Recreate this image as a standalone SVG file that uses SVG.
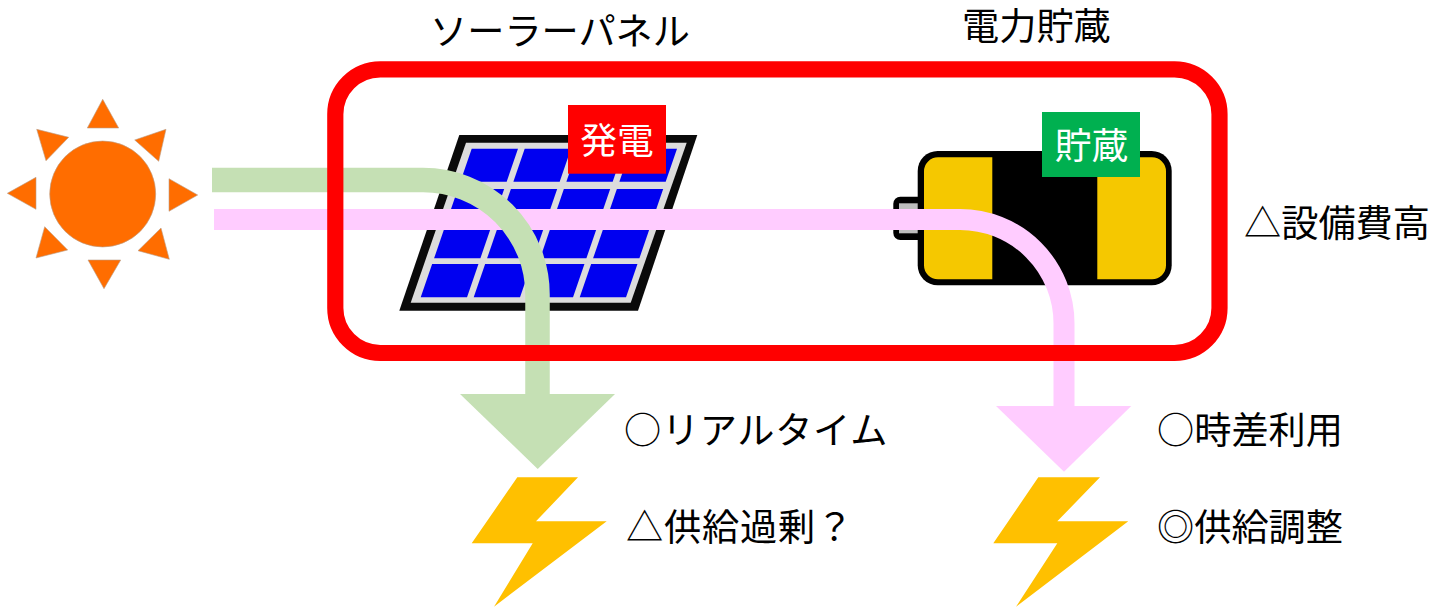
<svg xmlns="http://www.w3.org/2000/svg" width="1445" height="607" viewBox="0 0 1445 607">
<style>
text{font-family:"Noto Sans CJK JP","Noto Sans CJK SC",sans-serif;font-size:37.2px;fill:#000;font-weight:400}
.w{fill:#fff;font-size:36.8px;text-anchor:middle;font-weight:400}
.sun{fill:#FF6D00;stroke:#b9a08c;stroke-width:.6}
.cell{fill:#0000F0}
.bolt{fill:#FFC000}
.yel{fill:#F5C800}
.g{fill:none;stroke:#C5E0B4;stroke-width:24.5}
.p{fill:none;stroke:#FFCCFF;stroke-width:21}
</style>
<g id="sun">
<circle class="sun" cx="102.7" cy="194" r="53"/>
<polygon class="sun" points="102.7,99.3 87.3,128 118.7,128"/>
<polygon class="sun" points="88,260 120.7,260 104,288.7"/>
<polygon class="sun" points="7.3,193.3 36,177.3 36,209.3"/>
<polygon class="sun" points="169,178.7 169,211.3 197.7,195"/>
<polygon class="sun" points="36.7,129.3 68.7,137.3 46,160.7"/>
<polygon class="sun" points="166,129.3 134.7,140 158.7,161.3"/>
<polygon class="sun" points="44.7,226.7 67.7,250 36,258"/>
<polygon class="sun" points="161,228 138,250.7 169.3,259.3"/>
</g>
<g id="solar-panel">
<polygon fill="#0a0a0a" points="459.3,135 697.3,135 638,310.7 399.3,310.7"/>
<polygon fill="#dcdcdc" points="466,142.7 686.7,142.7 630.7,302.7 410.7,302.7"/>
<g transform="matrix(1 0 -.343 1 522.7 0)">
<rect class="cell" x="0" y="148.7" width="46.3" height="33"/><rect class="cell" x="53" y="148.7" width="46.3" height="33"/><rect class="cell" x="106" y="148.7" width="46.3" height="33"/><rect class="cell" x="159" y="148.7" width="46.3" height="33"/>
<rect class="cell" x="0" y="189" width="46.3" height="33"/><rect class="cell" x="53" y="189" width="46.3" height="33"/><rect class="cell" x="106" y="189" width="46.3" height="33"/><rect class="cell" x="159" y="189" width="46.3" height="33"/>
<rect class="cell" x="0" y="226" width="46.3" height="32.3"/><rect class="cell" x="53" y="226" width="46.3" height="32.3"/><rect class="cell" x="106" y="226" width="46.3" height="32.3"/><rect class="cell" x="159" y="226" width="46.3" height="32.3"/>
<rect class="cell" x="0" y="264" width="46.3" height="33.3"/><rect class="cell" x="53" y="264" width="46.3" height="33.3"/><rect class="cell" x="106" y="264" width="46.3" height="33.3"/><rect class="cell" x="159" y="264" width="46.3" height="33.3"/>
</g>
</g>
<g id="battery">
<rect x="893.3" y="196.7" width="35" height="43.3" rx="7" fill="#000"/>
<rect x="899" y="203.3" width="19" height="30" fill="#bdbdbd"/>
<rect x="917.7" y="151" width="254" height="134.3" rx="20" fill="#000"/>
<path class="yel" d="M992.3 157.3V279.3H938a14 14 0 0 1-14-14V171.3a14 14 0 0 1 14-14Z"/>
<path class="yel" d="M1097.3 157.3V279.3H1152a14 14 0 0 0 14-14V171.3a14 14 0 0 0-14-14Z"/>
</g>
<g id="label-hatsuden">
<rect x="568" y="105" width="98" height="68.7" fill="#f00"/>
<text class="w" x="617" y="154">発電</text>
</g>
<g id="label-chozo">
<rect x="1042" y="112" width="98" height="65" fill="#00B050"/>
<text class="w" x="1091.500" y="159">貯蔵</text>
</g>
<g id="bolt-1"><polygon class="bolt" points="517.3,477.3 578,477.3 536,521.3 606.7,521.3 494,606.7 532.7,543.3 471.7,543.3"/></g>
<g id="bolt-2"><polygon class="bolt" points="1038.3,477.3 1100,477.3 1057.3,521.3 1128.3,521.3 1016,606.7 1057.3,543.3 993.3,543.3"/></g>
<g id="connectors">
<path class="p" d="M214 219.5H960A104 104 0 0 1 1064 323.5V407"/>
<polygon fill="#FFCCFF" points="996,406 1131.3,406 1064,471.7"/>
<path class="g" d="M212 180H423A114.500 114.500 0 0 1 537.500 294.500V395"/>
<polygon fill="#C5E0B4" points="460,394 615,394 537.700,469"/>
</g>
<g id="system-frame"><rect x="335.300" y="69.300" width="884.200" height="283.700" rx="45" fill="none" stroke="#f00" stroke-width="16.200"/></g>
<g id="labels">
<text x="430" y="45">ソーラーパネル</text>
<text x="962" y="40">電力貯蔵</text>
<text x="1244" y="237">△設備費高</text>
<text x="624" y="444" letter-spacing=".7">○リアルタイム</text>
<text x="626" y="541" letter-spacing=".8">△供給過剰？</text>
<text x="1157" y="444">○時差利用</text>
<text x="1157" y="541">◎供給調整</text>
</g>
</svg>
